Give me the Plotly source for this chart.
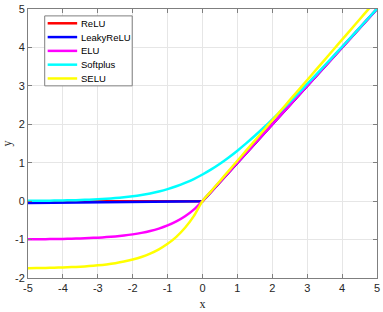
import plotly.graph_objects as go

x = [-5, -4.75, -4.5, -4.25, -4, -3.75, -3.5, -3.25, -3, -2.75, -2.5, -2.25, -2, -1.75,
     -1.5, -1.25, -1, -0.75, -0.5, -0.25, 0, 0.25, 0.5, 0.75, 1, 1.25, 1.5, 1.75, 2,
     2.25, 2.5, 2.75, 3, 3.25, 3.5, 3.75, 4, 4.25, 4.5, 4.75, 5]

relu = [0, 0, 0, 0, 0, 0, 0, 0, 0, 0, 0, 0, 0, 0, 0, 0, 0, 0, 0, 0, 0,
        0.25, 0.5, 0.75, 1, 1.25, 1.5, 1.75, 2, 2.25, 2.5, 2.75, 3, 3.25, 3.5, 3.75, 4,
        4.25, 4.5, 4.75, 5]

leaky_relu = [-0.05, -0.048, -0.045, -0.043, -0.04, -0.038, -0.035, -0.033, -0.03, -0.028,
              -0.025, -0.023, -0.02, -0.018, -0.015, -0.013, -0.01, -0.008, -0.005, -0.003, 0,
              0.25, 0.5, 0.75, 1, 1.25, 1.5, 1.75, 2, 2.25, 2.5, 2.75, 3, 3.25, 3.5, 3.75, 4,
              4.25, 4.5, 4.75, 5]

elu = [-0.993, -0.991, -0.989, -0.986, -0.982, -0.977, -0.970, -0.961, -0.950, -0.936,
       -0.918, -0.895, -0.865, -0.826, -0.777, -0.714, -0.632, -0.528, -0.394, -0.221, 0,
       0.25, 0.5, 0.75, 1, 1.25, 1.5, 1.75, 2, 2.25, 2.5, 2.75, 3, 3.25, 3.5, 3.75, 4,
       4.25, 4.5, 4.75, 5]

softplus = [0.007, 0.009, 0.011, 0.014, 0.018, 0.023, 0.030, 0.038, 0.049, 0.062, 0.079,
            0.100, 0.127, 0.160, 0.201, 0.252, 0.313, 0.387, 0.474, 0.576, 0.693, 0.826,
            0.974, 1.137, 1.313, 1.502, 1.701, 1.910, 2.127, 2.350, 2.579, 2.812, 3.049,
            3.288, 3.530, 3.773, 4.018, 4.264, 4.511, 4.759, 5.007]

selu = [-1.746, -1.743, -1.739, -1.733, -1.726, -1.717, -1.705, -1.690, -1.671, -1.646,
        -1.614, -1.573, -1.520, -1.453, -1.366, -1.254, -1.111, -0.928, -0.692, -0.389, 0,
        0.263, 0.525, 0.788, 1.051, 1.313, 1.576, 1.839, 2.101, 2.364, 2.627, 2.889, 3.152,
        3.415, 3.677, 3.940, 4.203, 4.465, 4.728, 4.991, 5.254]

names = ["ReLU", "LeakyReLU", "ELU", "Softplus", "SELU"]
colors = ["#ff0000", "#0000ff", "#ff00ff", "#00ffff", "#ffff00"]
values = [relu, leaky_relu, elu, softplus, selu]
curved = [False, False, True, True, True]

x_ticks = [-5, -4, -3, -2, -1, 0, 1, 2, 3, 4, 5]
x_labels = ["-5", "-4", "-3", "-2", "-1", "0", "1", "2", "3", "4", "5"]
y_ticks = [-2, -1, 0, 1, 2, 3, 4, 5]
y_labels = ["-2", "-1", "0", "1", "2", "3", "4", "5"]

W, H = 383, 312
ML, MR, MT, MB = 25, 3, 5, 34
PW, PH = W - ML - MR, H - MT - MB


def px(p):
    return (p - ML) / PW


def py(p):
    return 1 - (p - MT) / PH


fig = go.Figure()
for name, vals, color, smooth in zip(names, values, colors, curved):
    fig.add_trace(go.Scatter(
        x=x, y=vals, mode="lines", name=name, showlegend=False,
        line=dict(color=color, width=2.5,
                  shape="spline" if smooth else "linear", smoothing=0.6)))

axis_common = dict(
    showline=True, mirror="ticks", linecolor="#7f7f7f", linewidth=1,
    ticks="inside", ticklen=4, tickcolor="#7f7f7f",
    showgrid=True, gridcolor="#e6e6e6", gridwidth=1, zeroline=False,
    ticklabeloverflow="allow",
    tickfont=dict(family="Arial, Liberation Sans", size=11, color="#262626"),
)

# manual MATLAB-style legend box
shapes = [dict(type="rect", xref="paper", yref="paper", layer="above",
               x0=px(42), x1=px(131), y0=py(83), y1=py(12),
               fillcolor="white", line=dict(color="#7f7f7f", width=1))]
annotations = []
for i, (name, color) in enumerate(zip(names, colors)):
    yc = 19.5 + i * 14
    shapes.append(dict(type="line", xref="paper", yref="paper", layer="above",
                       x0=px(45), x1=px(75), y0=py(yc), y1=py(yc),
                       line=dict(color=color, width=2.5)))
    annotations.append(dict(xref="paper", yref="paper", x=px(77), y=py(yc),
                            xanchor="left", yanchor="middle", text=name, showarrow=False,
                            font=dict(family="Arial, Liberation Sans", size=9.5, color="#000000")))

fig.update_layout(
    width=W, height=H,
    margin=dict(l=ML, r=MR, t=MT, b=MB),
    paper_bgcolor="white", plot_bgcolor="white",
    xaxis=dict(range=[-5, 5], tickvals=x_ticks, ticktext=x_labels,
               title=dict(text="x", standoff=6,
                          font=dict(family="Liberation Serif, Times New Roman", size=12, color="#262626")),
               **axis_common),
    yaxis=dict(range=[-2, 5], tickvals=y_ticks, ticktext=y_labels,
               title=dict(text="y", standoff=4,
                          font=dict(family="Liberation Serif, Times New Roman", size=12, color="#262626")),
               **axis_common),
    shapes=shapes,
    annotations=annotations,
    showlegend=False,
)

fig.write_html("out.html")
